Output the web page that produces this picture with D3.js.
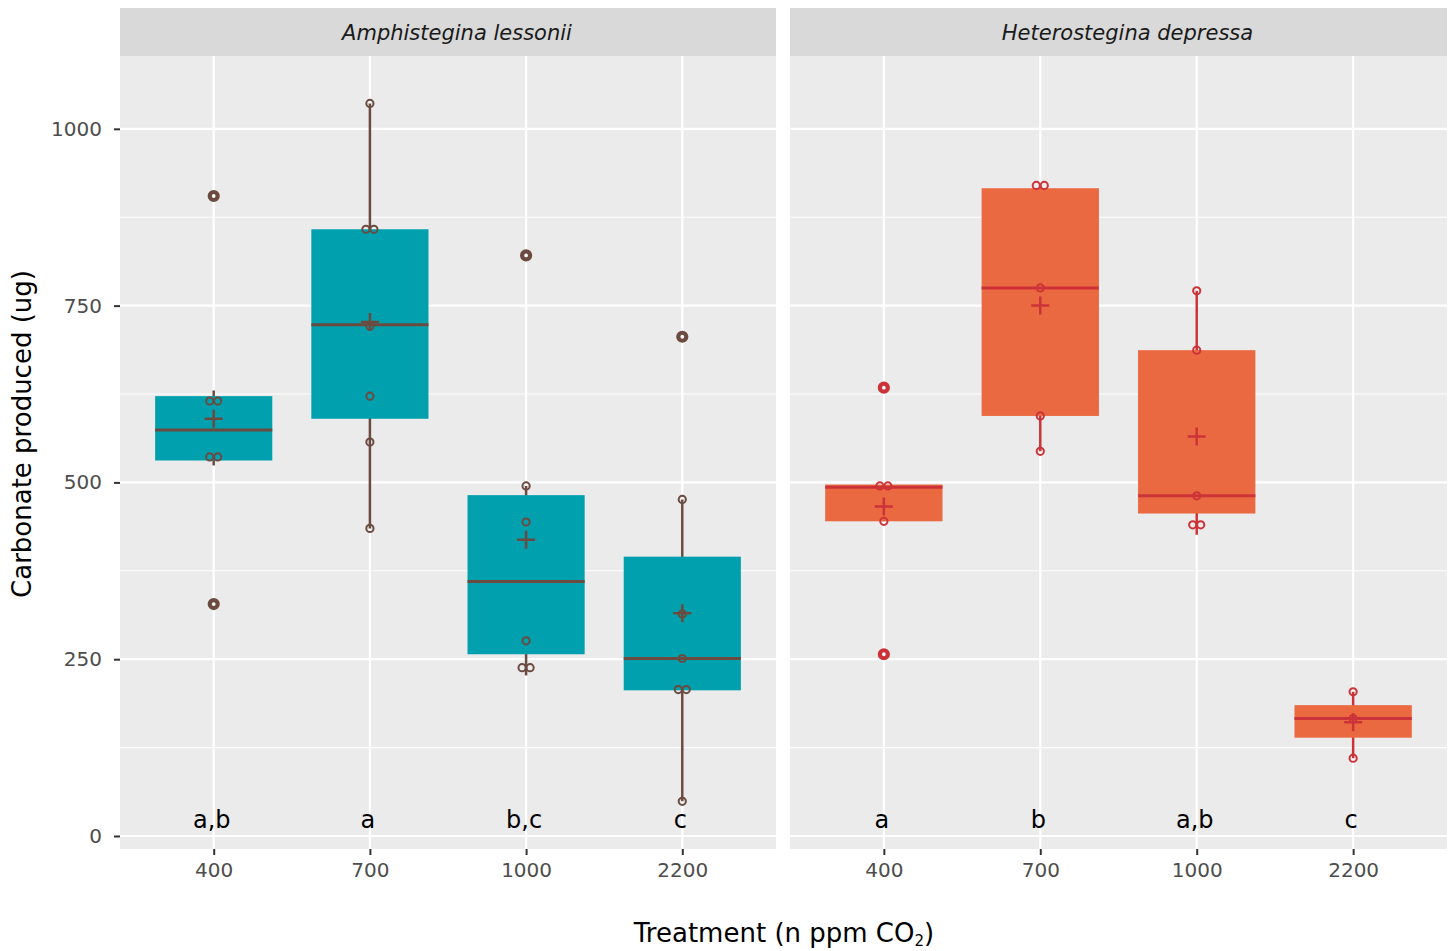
<!DOCTYPE html>
<html>
<head>
<meta charset="utf-8">
<script src="https://cdn.jsdelivr.net/npm/d3@7"></script>
<style>
  body { margin: 0; background: #fff; }
  text { font-family: "DejaVu Sans", Verdana, sans-serif; }
</style>
</head>
<body>
<svg id="chart" width="1448" height="951"></svg>
<script>
// DATA
const species = ["Amphistegina lessonii", "Heterostegina depressa"];
const treatments = ["400", "700", "1000", "2200"];
const letters = [
  ["a,b", "a", "b,c", "c"],
  ["a", "b", "a,b", "c"]
];
const whiskLo = [[524, 435, 227, 49], [445, 544, 426, 110]];
const q1 = [[531, 590, 257, 206], [445, 594, 456, 139]];
const median = [[574, 723, 360, 251], [493, 775, 481, 166]];
const q3 = [[622, 858, 482, 395], [497, 916, 687, 185]];
const whiskHi = [[630, 1036, 495, 476], [497, 920, 771, 204]];
const means = [[590, 727, 419, 315], [466, 750, 565, 161]];
const points = [
  [
    [905, 615, 615, 536, 536, 328],
    [1036, 858, 858, 721, 622, 557, 435],
    [821, 495, 444, 276, 238, 238],
    [706, 476, 314, 251, 207, 207, 49]
  ],
  [
    [634, 495, 495, 445, 257],
    [920, 920, 775, 594, 544],
    [771, 687, 481, 440, 440],
    [204, 166, 110]
  ]
];
const yTicks = [0, 250, 500, 750, 1000];
const yMinor = [125, 375, 625, 875];
const fills = ["#00a0ae", "#ea6941"];
const strokes = ["#6b4b3f", "#cc3339"];

// LAYOUT
const panels = [{ x0: 120, x1: 776 }, { x0: 790, x1: 1447 }];
const panelTop = 56, panelBottom = 849, stripTop = 8;

const svg = d3.select("#chart");

const y = d3.scaleLinear().domain([-18.4, 1103]).range([panelBottom, panelTop]);

species.forEach((sp, s) => {
  const p = panels[s];
  const x = d3.scalePoint().domain(treatments).range([p.x0, p.x1]).padding(0.6);
  const boxW = x.step() * 0.75;
  const g = svg.append("g");

  // PANEL BACKGROUND + STRIP
  g.append("rect").attr("x", p.x0).attr("y", panelTop)
    .attr("width", p.x1 - p.x0).attr("height", panelBottom - panelTop).attr("fill", "#ebebeb");
  g.append("rect").attr("x", p.x0).attr("y", stripTop)
    .attr("width", p.x1 - p.x0).attr("height", panelTop - stripTop).attr("fill", "#d9d9d9");
  g.append("text")
    .attr("x", (p.x0 + p.x1) / 2 + 9).attr("y", 40)
    .attr("text-anchor", "middle").attr("font-style", "italic")
    .attr("font-size", 21).attr("fill", "#1a1a1a")
    .text(sp);

  // GRID
  g.selectAll(".minor").data(yMinor).join("line")
    .attr("x1", p.x0).attr("x2", p.x1)
    .attr("y1", d => y(d)).attr("y2", d => y(d))
    .attr("stroke", "#fff").attr("stroke-width", 1.1);
  g.selectAll(".major").data(yTicks).join("line")
    .attr("x1", p.x0).attr("x2", p.x1)
    .attr("y1", d => y(d)).attr("y2", d => y(d))
    .attr("stroke", "#fff").attr("stroke-width", 2.2);
  g.selectAll(".vgrid").data(treatments).join("line")
    .attr("x1", d => x(d)).attr("x2", d => x(d))
    .attr("y1", panelTop).attr("y2", panelBottom)
    .attr("stroke", "#fff").attr("stroke-width", 2.2);

  // X AXIS
  const xAxis = g.append("g").attr("transform", `translate(0,${panelBottom})`)
    .call(d3.axisBottom(x).tickSize(6).tickPadding(8));
  xAxis.select(".domain").remove();
  xAxis.selectAll("line").attr("stroke", "#333").attr("stroke-width", 2);
  xAxis.selectAll("text").attr("font-size", 20).attr("fill", "#4d4d4d")
    .attr("font-family", "DejaVu Sans, sans-serif");

  // BOXES
  treatments.forEach((t, i) => {
    const cx = x(t);
    const col = strokes[s];
    g.append("line")
      .attr("x1", cx).attr("x2", cx)
      .attr("y1", y(whiskLo[s][i])).attr("y2", y(whiskHi[s][i]))
      .attr("stroke", col).attr("stroke-width", 2.5);
    g.append("rect")
      .attr("x", cx - boxW / 2).attr("width", boxW)
      .attr("y", y(q3[s][i])).attr("height", y(q1[s][i]) - y(q3[s][i]))
      .attr("fill", fills[s]);
    g.append("line")
      .attr("x1", cx - boxW / 2).attr("x2", cx + boxW / 2)
      .attr("y1", y(median[s][i])).attr("y2", y(median[s][i]))
      .attr("stroke", col).attr("stroke-width", 3);

    // POINTS: side-by-side when values repeat, outliers drawn heavier
    const seen = {};
    points[s][i].forEach(v => {
      const n = points[s][i].filter(d => d === v).length;
      const k = seen[v] = (seen[v] || 0) + 1;
      const dx = n > 1 ? (k - (n + 1) / 2) * 8 : 0;
      const outlier = v > whiskHi[s][i] || v < whiskLo[s][i];
      g.append("circle")
        .attr("cx", cx + dx).attr("cy", y(v))
        .attr("r", outlier ? 4 : 3.6)
        .attr("fill", "none").attr("stroke", col)
        .attr("stroke-width", outlier ? 4.2 : 2);
    });

    // MEAN CROSS
    const my = y(means[s][i]);
    g.append("path")
      .attr("d", `M${cx - 9},${my}H${cx + 9}M${cx},${my - 9}V${my + 9}`)
      .attr("stroke", col).attr("stroke-width", 2.5).attr("fill", "none");

    // SIGNIFICANCE LETTERS
    g.append("text")
      .attr("x", cx - 2).attr("y", y(0) - 8)
      .attr("text-anchor", "middle").attr("font-size", 24).attr("fill", "#000")
      .text(letters[s][i]);
  });
});

// Y AXIS
const yAxis = svg.append("g").attr("transform", `translate(${panels[0].x0},0)`)
  .call(d3.axisLeft(y).tickValues(yTicks).tickFormat(d3.format("d")).tickSize(6).tickPadding(12));
yAxis.select(".domain").remove();
yAxis.selectAll("line").attr("stroke", "#333").attr("stroke-width", 2);
yAxis.selectAll("text").attr("font-size", 20).attr("fill", "#4d4d4d")
  .attr("font-family", "DejaVu Sans, sans-serif");

// AXIS TITLES
svg.append("text")
  .attr("transform", "translate(31,434) rotate(-90)")
  .attr("text-anchor", "middle").attr("font-size", 26).attr("fill", "#000")
  .attr("font-family", "DejaVu Sans Condensed, DejaVu Sans, sans-serif")
  .text("Carbonate produced (ug)");

const xt = svg.append("text")
  .attr("x", 784).attr("y", 942)
  .attr("text-anchor", "middle").attr("font-size", 26).attr("fill", "#000");
xt.append("tspan").text("Treatment (n ppm CO");
xt.append("tspan").attr("font-size", 15).attr("dy", 4).text("2");
xt.append("tspan").attr("dy", -4).text(")");
</script>
</body>
</html>
